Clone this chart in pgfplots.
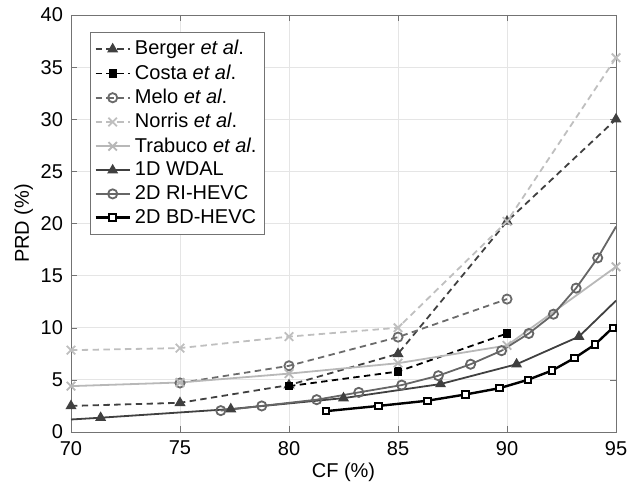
\documentclass[border=0pt]{standalone}
\usepackage{pgfplots}
\pgfplotsset{compat=1.18}
\usepackage{fontspec}
\setmainfont{Liberation Sans}
\definecolor{gBerger}{gray}{0.25}
\definecolor{gMelo}{gray}{0.42}
\definecolor{gNorris}{gray}{0.75}
\definecolor{gTrab}{gray}{0.72}
\definecolor{gWdal}{gray}{0.25}
\definecolor{gRi}{gray}{0.4}
\definecolor{axgray}{gray}{0.45}
\begin{document}
\begin{tikzpicture}
\begin{axis}[
    scale only axis,
    width=272.5pt, height=208.5pt,
    xmin=70, xmax=95, ymin=0, ymax=40,
    xtick={70,75,80,85,90,95},
    ytick={0,5,...,40},
    font=\fontsize{10}{12}\selectfont,
    /pgf/number format/assume math mode=true,
    xlabel={CF (\%)}, ylabel={PRD (\%)},
    xlabel style={yshift=3pt},
    ylabel style={yshift=-3pt},
    xticklabel style={yshift=-1pt},
    yticklabel style={xshift=-0.5pt},
    grid=major,
    grid style={gray!20, line width=0.4pt},
    axis line style={axgray},
    tick style={axgray},
    tick align=inside, tick pos=both,
    major tick length=3pt,
    legend cell align=left,
    legend style={at={(0,1)}, anchor=north west, xshift=9.5pt, yshift=-8.5pt,
        draw=axgray, font=\fontsize{10}{12}\selectfont, row sep=-0.6pt,
        inner sep=2pt},
    every axis plot/.append style={line width=0.9pt},
]
\coordinate (ll) at (rel axis cs:0,0);
\coordinate (ur) at (rel axis cs:1,1);

% Berger et al.
\addplot[gBerger, dash pattern=on 3.2pt off 2.2pt, mark=triangle*, mark size=2.3pt,
    mark options={solid, fill=gBerger}] coordinates {
    (70,2.5) (75,2.8) (80,4.5) (85,7.5) (90,20.2) (95,30.0)
};
\addlegendentry{Berger \textit{et al}.}

% Costa et al.
\addplot[black, dash pattern=on 3.2pt off 2.2pt, mark=square*, mark size=1.6pt,
    mark options={solid, fill=black}] coordinates {
    (80,4.4) (85,5.8) (90,9.45)
};
\addlegendentry{Costa \textit{et al}.}

% Melo et al.
\addplot[gMelo, dash pattern=on 3.2pt off 2.2pt, mark=o, mark size=2.3pt,
    mark options={solid}] coordinates {
    (75,4.7) (80,6.35) (85,9.1) (90,12.75)
};
\addlegendentry{Melo \textit{et al}.}

% Norris et al.
\addplot[gNorris, dash pattern=on 3.2pt off 2.2pt, mark=x, mark size=3pt,
    mark options={solid}] coordinates {
    (70,7.85) (75,8.05) (80,9.15) (85,10.0) (90,20.2) (95,35.9)
};
\addlegendentry{Norris \textit{et al}.}

% Trabuco et al.
\addplot[gTrab, mark=x, mark size=3pt] coordinates {
    (70,4.4) (75,4.75) (80,5.6) (85,6.6) (90,8.3) (95,15.85)
};
\addlegendentry{Trabuco \textit{et al}.}

% 1D WDAL (line ends run past the first and last markers)
\addplot[gWdal, forget plot] coordinates {(70,1.2) (71.36,1.37)};
\addplot[gWdal, forget plot] coordinates {(93.3,9.15) (95,12.6)};
\addplot[gWdal, mark=triangle*, mark size=2.3pt, mark options={fill=gWdal}] coordinates {
    (71.36,1.37) (77.33,2.2) (82.5,3.25) (86.95,4.6) (90.44,6.5) (93.3,9.15)
};
\addlegendentry{1D WDAL}

% 2D RI-HEVC
\addplot[gRi, forget plot] coordinates {(94.16,16.7) (95,19.7)};
\addplot[gRi, mark=o, mark size=2.3pt] coordinates {
    (76.87,2.05) (78.75,2.5) (81.27,3.1) (83.2,3.8) (85.17,4.5) (86.85,5.4)
    (88.33,6.5) (89.75,7.8) (91.0,9.45) (92.13,11.3) (93.17,13.8) (94.16,16.7)
};
\addlegendentry{2D RI-HEVC}

% 2D BD-HEVC
\addplot[black, line width=1.2pt, mark=square*, mark size=1.6pt,
    mark options={fill=white, line width=1pt}] coordinates {
    (81.7,2.0) (84.1,2.5) (86.35,3.0) (88.1,3.6) (89.65,4.2) (90.95,5.0)
    (92.07,5.9) (93.1,7.1) (94.04,8.4) (94.85,10.0)
};
\addlegendentry{2D BD-HEVC}
\end{axis}
\path (ll) ++(-35.5pt,-29.5pt);
\path (ur) ++(12.5pt,7.5pt);
\end{tikzpicture}
\end{document}
